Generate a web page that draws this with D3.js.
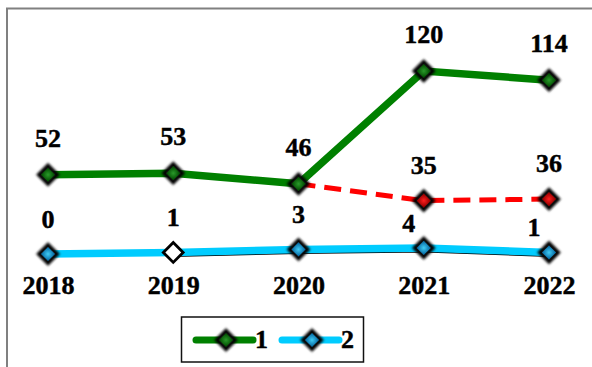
<!DOCTYPE html>
<html><head><meta charset="utf-8">
<script src="https://cdn.jsdelivr.net/npm/d3@7"></script>
<style>html,body{margin:0;padding:0;background:#fff;overflow:hidden}</style>
</head><body>
<svg id="c" width="592" height="367"></svg>
<script>
const years = ["2018","2019","2020","2021","2022"];
const series1 = [52, 53, 46, 120, 114];
const series2 = [0, 1, 3, 4, 1];
const forecastYears = ["2020","2021","2022"];
const forecast = [46, 35, 36];
const legendLabels = ["1", "2"];

const svg = d3.select("#c");
const font = "Liberation Serif, Times New Roman, serif";
const FS = 26;

const defs = svg.append("defs");
function grad(id, light, dark) {
  const g = defs.append("radialGradient").attr("id", id).attr("cx","50%").attr("cy","50%").attr("r","60%");
  g.append("stop").attr("offset","0%").attr("stop-color", light);
  g.append("stop").attr("offset","100%").attr("stop-color", dark);
}
grad("gG", "#2a9a2a", "#045004");
grad("gR", "#ff2020", "#9a0000");
grad("gB", "#40ccf4", "#0a70a8");
const blur = defs.append("filter").attr("id","bl").attr("x","-50%").attr("y","-50%").attr("width","200%").attr("height","200%");
blur.append("feGaussianBlur").attr("stdDeviation", 0.9);

// frame
svg.append("path").attr("d","M7,367 V8.5 H592").attr("fill","none").attr("stroke","#808080").attr("stroke-width",2);

const x = d3.scalePoint().domain(years).range([48, 549]);
const y = d3.scaleLinear().domain([0, 120]).range([254, 71]);

const line = d3.line().x(d => x(d[0])).y(d => y(d[1]));

function styleText(sel) {
  sel.attr("font-family", font).attr("font-weight","bold").attr("font-size", FS)
     .attr("fill","#000").attr("stroke","#000").attr("stroke-width",0.45);
}

// x axis labels
const xAxis = d3.axisBottom(x).tickSize(0).tickPadding(0);
const ax = svg.append("g").attr("transform","translate(0,276)").call(xAxis);
ax.attr("font-family", null).attr("font-size", null);
ax.select(".domain").remove();
ax.selectAll("text").call(styleText).attr("dy","0.71em");

const s1 = years.map((yr,i)=>[yr, series1[i]]);
const s2 = years.map((yr,i)=>[yr, series2[i]]);
const fc = forecastYears.map((yr,i)=>[yr, forecast[i]]);

// thin dark edge under series 2
svg.append("path").datum(s2.slice(1)).attr("fill","none").attr("stroke","#000").attr("stroke-width",1.5)
  .attr("transform","translate(0,3.8)").attr("d", line);

svg.append("path").datum(fc).attr("fill","none").attr("stroke","#ff0000").attr("stroke-width",5)
  .attr("stroke-dasharray","17,9").attr("d", line);
svg.append("path").datum(s2).attr("fill","none").attr("stroke","#00ccff").attr("stroke-width",7.5).attr("d", line);
svg.append("path").datum(s1).attr("fill","none").attr("stroke","#008000").attr("stroke-width",7.5).attr("d", line);

function diamond(g, cx, cy, fill, hollow) {
  const grp = g.append("g").attr("transform", `translate(${cx},${cy}) rotate(45)`);
  grp.append("rect").attr("x",-7).attr("y",-7).attr("width",14).attr("height",14)
    .attr("fill", hollow ? "#fff" : "#111").attr("stroke", "#000").attr("stroke-width", hollow ? 2.8 : 2.8)
    .attr("filter", hollow ? null : "url(#bl)");
  if (!hollow) grp.append("rect").attr("x",-5).attr("y",-5).attr("width",10).attr("height",10).attr("fill", fill);
}
const mk = svg.append("g");
s1.forEach(d => diamond(mk, x(d[0]), y(d[1]), "url(#gG)"));
fc.slice(1).forEach(d => diamond(mk, x(d[0]), y(d[1]), "url(#gR)"));
s2.forEach((d,i) => diamond(mk, x(d[0]), y(d[1]), "url(#gB)", i === 1));

function labels(data, fn) {
  svg.append("g").selectAll("text").data(data).join("text")
    .call(styleText)
    .attr("text-anchor","middle")
    .each(function(d,i){ const p = fn(d,i); d3.select(this).attr("x",p[0]).attr("y",p[1]); })
    .text(d => d[1]);
}
labels(s1, d => [x(d[0]), y(d[1]) - 28]);
labels(fc.slice(1), d => [x(d[0]), y(d[1]) - 27]);
labels(s2, (d,i) => i >= 3 ? [x(d[0]) - 15, y(d[1]) - 16] : [x(d[0]), y(d[1]) - 26]);

// legend
const lg = svg.append("g");
lg.append("rect").attr("x",181.5).attr("y",317).attr("width",182).attr("height",45).attr("fill","#fff").attr("stroke","#111").attr("stroke-width",1.5);
const items = [
  {label: legendLabels[0], color:"#008000", fill:"url(#gG)", x0:196},
  {label: legendLabels[1], color:"#00ccff", fill:"url(#gB)", x0:282}
];
items.forEach(it => {
  lg.append("line").attr("x1", it.x0).attr("x2", it.x0+57).attr("y1",340).attr("y2",340)
    .attr("stroke", it.color).attr("stroke-width",7).attr("stroke-linecap","round");
  diamond(lg, it.x0+30, 340, it.fill);
  lg.append("text").attr("x", it.x0+59).attr("y", 348).call(styleText).text(it.label);
});
</script>
</body></html>
